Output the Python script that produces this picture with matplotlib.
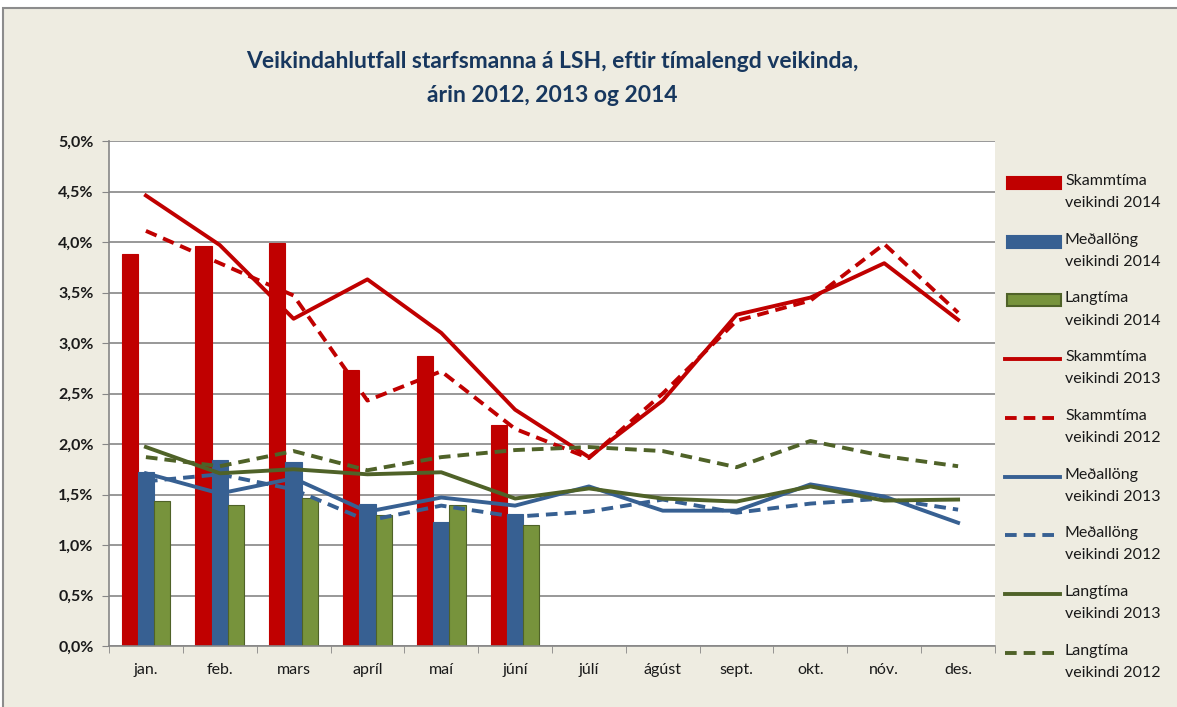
import numpy as np
import matplotlib.pyplot as plt
from matplotlib.patches import Rectangle
from matplotlib.lines import Line2D

months = ['jan.', 'feb.', 'mars', 'apríl', 'maí', 'júní', 'júlí', 'ágúst',
          'sept.', 'okt.', 'nóv.', 'des.']

# 2014 (bars, jan - júní)
skamm_2014 = [3.88, 3.96, 3.99, 2.73, 2.87, 2.19]
midl_2014 = [1.72, 1.84, 1.82, 1.41, 1.23, 1.31]
lang_2014 = [1.44, 1.40, 1.47, 1.30, 1.40, 1.20]

# 2013 and 2012 (lines)
skamm_2013 = [4.46, 3.97, 3.24, 3.63, 3.10, 2.34, 1.87, 2.43, 3.28, 3.45, 3.79, 3.23]
skamm_2012 = [4.11, 3.79, 3.47, 2.43, 2.72, 2.15, 1.86, 2.50, 3.22, 3.42, 3.98, 3.30]
midl_2013 = [1.71, 1.51, 1.66, 1.33, 1.47, 1.39, 1.58, 1.34, 1.34, 1.60, 1.48, 1.22]
midl_2012 = [1.63, 1.70, 1.55, 1.24, 1.39, 1.28, 1.33, 1.45, 1.32, 1.41, 1.46, 1.35]
lang_2013 = [1.97, 1.71, 1.75, 1.70, 1.72, 1.46, 1.56, 1.46, 1.43, 1.58, 1.44, 1.45]
lang_2012 = [1.87, 1.78, 1.93, 1.74, 1.87, 1.94, 1.97, 1.93, 1.77, 2.03, 1.88, 1.78]

yticks = [0, 0.5, 1.0, 1.5, 2.0, 2.5, 3.0, 3.5, 4.0, 4.5, 5.0]
ytick_labels = ['0,0%', '0,5%', '1,0%', '1,5%', '2,0%', '2,5%', '3,0%', '3,5%',
                '4,0%', '4,5%', '5,0%']

red = '#C00000'
blue = '#376092'
green_bar = '#77933C'
green_edge = '#4F6228'
green_line = '#4F6228'
bg = '#EEECE1'
grid = '#868686'

plt.rcParams['font.family'] = ['Lato', 'DejaVu Sans']

W, H = 1177, 707
fig = plt.figure(figsize=(W / 100, H / 100), dpi=100)
fig.patch.set_facecolor('white')
# chart area background with its grey frame
fig.patches.append(Rectangle((3 / W, -0.01), 1.1, (H - 8) / H + 0.01,
                             transform=fig.transFigure, facecolor=bg,
                             edgecolor='#8C8C8C', linewidth=1.5, zorder=-10))

ax = fig.add_axes([109 / W, 61 / H, 886 / W, 505 / H])
ax.set_facecolor('white')

x = np.arange(len(months))
xb = np.arange(len(skamm_2014))
w = 0.22
ax.bar(xb - w, skamm_2014, w, color=red, edgecolor=red, linewidth=0.8, zorder=2)
ax.bar(xb, midl_2014, w, color=blue, edgecolor=blue, linewidth=0.8, zorder=2)
ax.bar(xb + w, lang_2014, w, color=green_bar, edgecolor=green_edge, linewidth=0.8, zorder=2)

lw = 2.8
dash = (3.0, 1.8)
lines = [
    (skamm_2013, red, None, 'Skammtíma\nveikindi 2013'),
    (skamm_2012, red, dash, 'Skammtíma\nveikindi 2012'),
    (midl_2013, blue, None, 'Meðallöng\nveikindi 2013'),
    (midl_2012, blue, dash, 'Meðallöng\nveikindi 2012'),
    (lang_2013, green_line, None, 'Langtíma\nveikindi 2013'),
    (lang_2012, green_line, dash, 'Langtíma\nveikindi 2012'),
]
for vals, c, d, _ in lines:
    if d:
        ax.plot(x, vals, color=c, lw=lw, dashes=d, zorder=3)
    else:
        ax.plot(x, vals, color=c, lw=lw, zorder=3)

ax.set_xlim(-0.5, len(months) - 0.5)
ax.set_ylim(0, 5)
ax.set_yticks(yticks)
ax.set_yticklabels(ytick_labels, fontweight='bold', fontsize=11.5, color='#1a1a1a')
ax.yaxis.grid(True, color=grid, linewidth=1.2, zorder=1)
ax.set_axisbelow(True)
ax.tick_params(axis='y', length=5, color=grid, pad=6)

ax.set_xticks(x)
ax.set_xticklabels(months, fontsize=11.5, color='#1a1a1a')
ax.set_xticks(np.arange(-0.5, len(months)), minor=True)
ax.tick_params(axis='x', which='major', length=0, pad=12)
ax.tick_params(axis='x', which='minor', length=5, color=grid)

for s in ['top', 'right']:
    ax.spines[s].set_visible(False)
for s in ['left', 'bottom']:
    ax.spines[s].set_color(grid)
    ax.spines[s].set_linewidth(1.2)

fig.text(552 / W, 1 - 62 / H,
         'Veikindahlutfall starfsmanna á LSH, eftir tímalengd veikinda,',
         ha='center', va='center', fontsize=16.5, fontweight='bold', color='#17375E')
fig.text(552 / W, 1 - 95 / H, 'árin 2012, 2013 og 2014',
         ha='center', va='center', fontsize=16.5, fontweight='bold', color='#17375E')

# legend: key sits level with the first line of each two-line label
bars_leg = [(red, red, 'Skammtíma\nveikindi 2014'),
            (blue, blue, 'Meðallöng\nveikindi 2014'),
            (green_bar, green_edge, 'Langtíma\nveikindi 2014')]
step = 58.7
y0 = 183
txt_kw = dict(ha='left', va='top', fontsize=11.5, color='#1a1a1a', linespacing=1.75)
for i, (fc, ec, lab) in enumerate(bars_leg):
    yc = y0 + i * step
    fig.add_artist(Rectangle((1007 / W, 1 - (yc + 6) / H), 54 / W, 12 / H,
                             transform=fig.transFigure, facecolor=fc,
                             edgecolor=ec, linewidth=1.5))
    fig.text(1065 / W, 1 - (yc - 9) / H, lab, **txt_kw)
for j, (_, c, d, lab) in enumerate(lines):
    yc = y0 + (j + 3) * step
    ln = Line2D([1005 / W, 1060 / W], [1 - yc / H, 1 - yc / H],
                transform=fig.transFigure, color=c, lw=lw)
    if d:
        ln.set_dashes(d)
        ln.set_xdata([1005 / W, 1055 / W])
    fig.add_artist(ln)
    fig.text(1065 / W, 1 - (yc - 9) / H, lab, **txt_kw)

fig.savefig('out.png', dpi=100)
